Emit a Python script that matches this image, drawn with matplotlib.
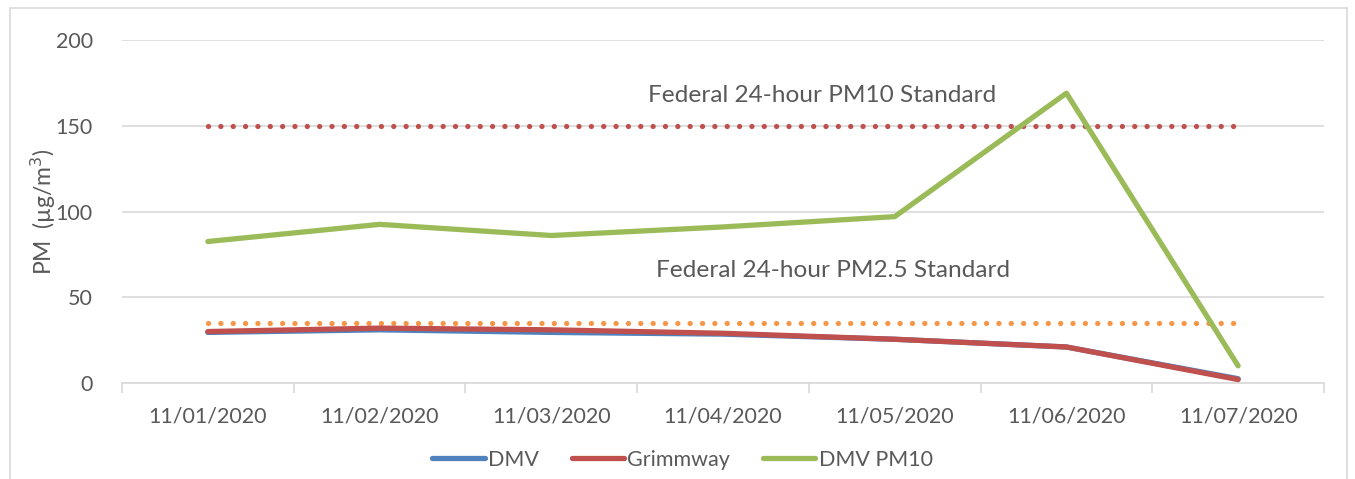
import matplotlib
matplotlib.use("Agg")
import matplotlib.pyplot as plt
from matplotlib.patches import Rectangle
from matplotlib.lines import Line2D

dates = ["11/01/2020", "11/02/2020", "11/03/2020", "11/04/2020",
         "11/05/2020", "11/06/2020", "11/07/2020"]
dmv = [29.5, 31.0, 29.5, 28.5, 25.5, 21.0, 2.5]
grimmway = [30.0, 32.0, 31.0, 29.0, 25.5, 21.0, 2.0]
dmv_pm10 = [82.5, 92.5, 86.0, 91.0, 97.0, 169.0, 10.0]
pm10_standard = 150
pm25_standard = 35

plt.rcParams['font.family'] = ['Lato', 'DejaVu Sans']
gray_text = '#595959'
grid_c = '#d9d9d9'

fig = plt.figure(figsize=(13.55, 4.79), dpi=100)
ax = fig.add_axes([122/1355, 1-383/479, (1324-122)/1355, (383-40)/479])

x = list(range(len(dates)))
c_blue = '#4f81bd'
c_red = '#c0504d'
c_green = '#9bbb59'
c_orange = '#f79646'

dot = (0, (0.01, 2.33))
ax.plot(x, [pm10_standard]*len(x), color=c_red, lw=3.8, linestyle=dot,
        dash_capstyle='round', zorder=3)
ax.plot(x, [pm25_standard]*len(x), color=c_orange, lw=3.8, linestyle=dot,
        dash_capstyle='round', zorder=3)
ax.plot(x, dmv, color=c_blue, lw=3.8, solid_capstyle='round', zorder=4)
ax.plot(x, grimmway, color=c_red, lw=3.8, solid_capstyle='round', zorder=5)
ax.plot(x, dmv_pm10, color=c_green, lw=3.8, solid_capstyle='round', zorder=6)

ax.text(3.58, 167.5, "Federal 24-hour PM10 Standard", ha='center', va='center',
        fontsize=17.6, color=gray_text)
ax.text(3.64, 65.5, "Federal 24-hour PM2.5 Standard", ha='center', va='center',
        fontsize=17.6, color=gray_text)

ax.set_xlim(-0.5, len(x)-0.5)
ax.set_ylim(0, 200)
ax.set_yticks([0, 50, 100, 150, 200])
ax.set_xticks(x)
ax.set_xticklabels(dates)
ax.set_xticks([i-0.5 for i in range(len(x)+1)], minor=True)
ax.tick_params(axis='x', which='major', length=0, pad=17, labelsize=15.5, labelcolor=gray_text)
ax.tick_params(axis='x', which='minor', length=7, color=grid_c, width=1.2)
ax.tick_params(axis='y', length=0, pad=21, labelsize=15.5, labelcolor=gray_text)
ax.yaxis.grid(True, color=grid_c, lw=1.2)
ax.set_axisbelow(True)
for s in ['top', 'right', 'left']:
    ax.spines[s].set_visible(False)
ax.spines['bottom'].set_color(grid_c)
ax.spines['bottom'].set_linewidth(1.2)

ax.set_ylabel("PM  (µg/m$^{3}$)", fontsize=16.5, color=gray_text, labelpad=-2)

handles = [Line2D([0], [0], color=c_blue, lw=3.8, solid_capstyle='round'),
           Line2D([0], [0], color=c_red, lw=3.8, solid_capstyle='round'),
           Line2D([0], [0], color=c_green, lw=3.8, solid_capstyle='round')]
fig.legend(handles, ["DMV", "Grimmway", "DMV PM10"], loc='center',
           bbox_to_anchor=(0.5 + 5/1355, 1-460/479), ncol=3, frameon=False,
           fontsize=15.5, labelcolor=gray_text, handlelength=2.45,
           handletextpad=0.15, columnspacing=1.5)

fig.patches.append(Rectangle((10/1355, -0.1), (1347-10)/1355, 1.1-8/479,
                             transform=fig.transFigure, fill=False,
                             edgecolor=grid_c, lw=1.2))

fig.savefig("out.png", dpi=100)
